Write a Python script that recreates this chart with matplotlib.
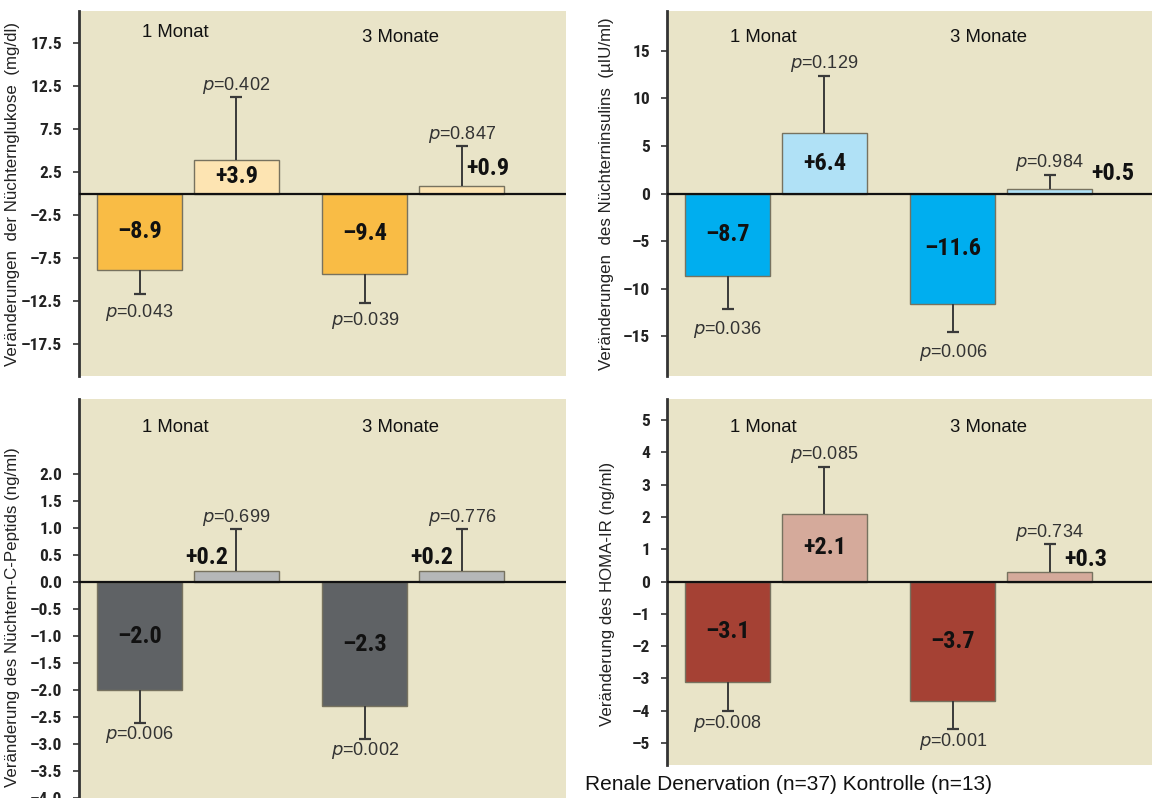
import numpy as np
import matplotlib
matplotlib.use("Agg")
import matplotlib.pyplot as plt

# changes after renal denervation (RDN) vs. control, after 1 and 3 months
months = ["1 Monat", "3 Monate"]

glucose_rdn = [-8.9, -9.4]
glucose_ctrl = [3.9, 0.9]
glucose_rdn_err = [2.8, 3.3]
glucose_ctrl_err = [7.3, 4.6]
glucose_rdn_p = ["0.043", "0.039"]
glucose_ctrl_p = ["0.402", "0.847"]

insulin_rdn = [-8.7, -11.6]
insulin_ctrl = [6.4, 0.5]
insulin_rdn_err = [3.5, 3.0]
insulin_ctrl_err = [6.0, 1.45]
insulin_rdn_p = ["0.036", "0.006"]
insulin_ctrl_p = ["0.129", "0.984"]

cpep_rdn = [-2.0, -2.3]
cpep_ctrl = [0.2, 0.2]
cpep_rdn_err = [0.6, 0.6]
cpep_ctrl_err = [0.78, 0.78]
cpep_rdn_p = ["0.006", "0.002"]
cpep_ctrl_p = ["0.699", "0.776"]

homa_rdn = [-3.1, -3.7]
homa_ctrl = [2.1, 0.3]
homa_rdn_err = [0.92, 0.88]
homa_ctrl_err = [1.46, 0.85]
homa_rdn_p = ["0.008", "0.001"]
homa_ctrl_p = ["0.085", "0.734"]

W, H = 1152, 798
BG = "#e9e4c8"
NARROW = ["Liberation Sans Narrow", "DejaVu Sans Condensed", "Roboto Condensed", "Roboto"]
ARIAL = ["Liberation Sans", "DejaVu Sans"]

plt.rcParams["font.family"] = ARIAL

fig = plt.figure(figsize=(W / 100, H / 100), dpi=100)
fig.patch.set_facecolor("white")


def fmt(v):
    s = f"{abs(v):.1f}"
    return ("+" if v > 0 else "\u2013") + s


def panel(box, ylim, ticks, tickfmt, ylabel, lab_xy, rdn, ctrl, rdn_err, ctrl_err,
          rdn_p, ctrl_p, c_rdn, c_ctrl, small_off, pgap_below, head_dy):
    l, t, r, b = box
    ax = fig.add_axes([l / W, (H - b) / H, (r - l) / W, (b - t) / H])
    ax.set_facecolor(BG)
    for s in ["top", "right", "bottom"]:
        ax.spines[s].set_visible(False)
    ax.spines["left"].set_linewidth(2)
    ax.spines["left"].set_color("#333333")
    ax.set_xlim(0.288, 0.288 + (r - l) / 85)
    ax.set_ylim(*ylim)
    ax.set_xticks([])
    ax.set_yticks(ticks)
    ax.set_yticklabels([tickfmt(v).replace("-", "\u2013") for v in ticks],
                       family=NARROW, fontsize=12.5, fontweight="bold", color="#222222")
    ax.tick_params(axis="y", length=4, width=1.2, color="#333333", pad=8)
    ax.set_ylabel(ylabel, fontsize=12.2, color="#222222")
    ax.yaxis.set_label_coords(*lab_xy)
    ax.axhline(0, color="#111111", lw=1.6, zorder=4)

    groups = np.array([1.57, 4.22])
    xr = groups - 0.57
    xc = groups + 0.57
    for xs, vals, errs, ps, col in [(xr, rdn, rdn_err, rdn_p, c_rdn),
                                    (xc, ctrl, ctrl_err, ctrl_p, c_ctrl)]:
        ax.bar(xs, vals, width=1.0, color=col, edgecolor="#77725f", lw=1.0, zorder=2)
        for x, v, e, p in zip(xs, vals, errs, ps):
            up = v > 0
            tip = v + e if up else v - e
            # one-sided error whisker, cap only at the far end
            ax.vlines(x, v, tip, color="#3a3a3a", lw=1.4, zorder=3)
            ax.plot(x, tip, marker="_", ms=9, mew=1.6, color="#3a3a3a", zorder=3)
            ax.annotate(f"$\\it{{p}}$={p}", (x, tip), xytext=(0, 12 if up else -pgap_below),
                        textcoords="offset pixels", ha="center", va="center",
                        fontsize=13, color="#333333")
            if abs(v) < 0.1 * ylim[1]:
                ax.annotate(fmt(v), (x, v), xytext=small_off, textcoords="offset pixels",
                            ha="center", va="center", family=NARROW, fontsize=17.5,
                            fontweight="bold", color="#111111", zorder=5)
            else:
                ax.text(x, v / 2, fmt(v), ha="center", va="center", family=NARROW,
                        fontsize=17.5, fontweight="bold", color="#111111", zorder=5)

    for g, m, dy in zip(groups, months, head_dy):
        ax.annotate(m, (g - 0.15, 1), xycoords=("data", "axes fraction"),
                    xytext=(0, -dy), textcoords="offset pixels", ha="center", va="center",
                    fontsize=13.3, color="#111111")
    return ax


# Nüchternglukose
panel((79, 11, 566, 376), (-21.2, 21.2), [-17.5, -12.5, -7.5, -2.5, 2.5, 7.5, 12.5, 17.5],
      lambda v: f"{v:.1f}", "Veränderungen  der Nüchternglukose  (mg/dl)", (-0.121, 0.5),
      glucose_rdn, glucose_ctrl, glucose_rdn_err, glucose_ctrl_err,
      glucose_rdn_p, glucose_ctrl_p, "#f9bc45", "#fde4b2", (26, 17), 18, (22, 27))

# Nüchterninsulin
panel((667, 11, 1154, 376), (-19.2, 19.2), [-15, -10, -5, 0, 5, 10, 15],
      lambda v: f"{v:d}", "Veränderungen  des Nüchterninsulins  (µIU/ml)", (-0.109, 0.5),
      insulin_rdn, insulin_ctrl, insulin_rdn_err, insulin_ctrl_err,
      insulin_rdn_p, insulin_ctrl_p, "#00aeef", "#b0e1f6", (63, 15), 20, (27, 27))

# Nüchtern-C-Peptid
panel((79, 399, 566, 830), (-4.59, 3.39), list(np.arange(-4.0, 2.01, 0.5)),
      lambda v: f"{v:.1f}", "Veränderung des Nüchtern-C-Peptids (ng/ml)", (-0.121, 0.494),
      cpep_rdn, cpep_ctrl, cpep_rdn_err, cpep_ctrl_err,
      cpep_rdn_p, cpep_ctrl_p, "#5f6265", "#b5b7b8", (-30, 14), 12, (29, 29))

# HOMA-IR
panel((667, 399, 1154, 765), (-5.68, 5.65), list(range(-5, 6)),
      lambda v: f"{v:d}", "Veränderung des HOMA-IR (ng/ml)", (-0.107, 0.467),
      homa_rdn, homa_ctrl, homa_rdn_err, homa_ctrl_err,
      homa_rdn_p, homa_ctrl_p, "#a54134", "#d5aa9b", (36, 12), 12, (29, 29))

fig.text(585 / W, 1 - 785 / H, "Renale Denervation (n=37) Kontrolle (n=13)",
         ha="left", va="center", fontsize=15, color="#111111")

fig.savefig("out.png", dpi=100, facecolor="white")
